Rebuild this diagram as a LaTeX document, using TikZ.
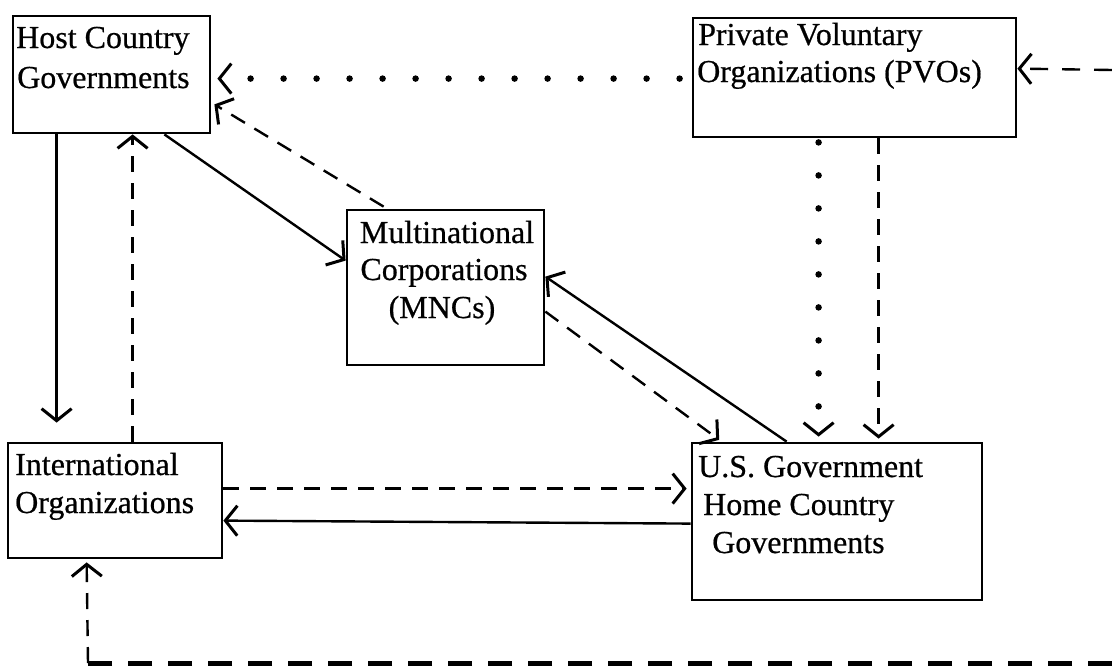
\documentclass[tikz,border=0pt]{standalone}
\usepackage{fontspec}
\setmainfont[FakeBold=0.6]{Liberation Serif}
\usetikzlibrary{arrows.meta}
\begin{document}
\begin{tikzpicture}[x=1pt,y=-1pt,
  box/.style={draw, line width=2.8pt, inner sep=0pt},
  lbl/.style={inner sep=0pt, font=\fontsize{32}{38}\selectfont},
  conn/.style={line width=2.4pt},
  dashline/.style={conn, dash pattern=on 16pt off 11pt},
  dotline/.style={line width=6.5pt, line cap=round, dash pattern=on 0pt off 33pt},
  tip/.style={-{Straight Barb[length=12pt,width=30pt,line width=3pt]}},
]
\useasboundingbox (0,0) rectangle (1112,667);
% boxes
\node[box, minimum width=197pt, minimum height=117pt] (host) at (111.5,74.5) {};
\node[box, minimum width=323pt, minimum height=119pt] (pvo) at (854.5,77.5) {};
\node[box, minimum width=197pt, minimum height=155pt] (mnc) at (445.5,287.5) {};
\node[box, minimum width=214pt, minimum height=115pt] (intl) at (115,500.5) {};
\node[box, minimum width=290pt, minimum height=157pt] (us) at (837,521.5) {};
% texts
\node[lbl, anchor=base west] (h1) at (16,48) {Host Country};
\node[lbl, anchor=base west] (h2) at (17,88) {Governments};
\node[lbl, anchor=base west] (p1) at (698,45) {Private Voluntary};
\node[lbl, anchor=base west] (p2) at (697,82) {Organizations (PVOs)};
\node[lbl, anchor=base] (m1) at (447,243) {Multinational};
\node[lbl, anchor=base] (m2) at (444,280) {Corporations};
\node[lbl, anchor=base] (m3) at (442,318) {(MNCs)};
\node[lbl, anchor=base west] (i1) at (15,475) {International};
\node[lbl, anchor=base west] (i2) at (15,513) {Organizations};
\node[lbl, anchor=base west] (u1) at (698,477) {U.S. Government};
\node[lbl, anchor=base west] (u2) at (703,515) {Home Country};
\node[lbl, anchor=base west] (u3) at (712,553) {Governments};
% connectors
\draw[dotline, tip, shorten >=2pt] ([yshift=-62pt,xshift=-12pt]pvo.north west) -- ([yshift=-64pt,xshift=4pt]host.north east);
\draw[dashline, tip] ([xshift=38pt,yshift=2pt]mnc.north west) -- ([xshift=3pt,yshift=30pt]host.south east);
\draw[conn, tip] ([xshift=-47pt]host.south east) -- ([yshift=-52pt]mnc.north west);
\draw[conn, tip, shorten >=19pt] ([xshift=45pt]host.south west) -- ([xshift=50pt]intl.north west);
\draw[dashline, tip] ([xshift=126pt]intl.north west) -- ([xshift=121pt]host.south west);
\draw[dashline, tip, shorten >=4pt] ([yshift=-47pt]intl.north east) -- ([yshift=-47pt]us.north west);
\draw[conn, tip] ([yshift=-82pt]us.north west) -- ([yshift=-79pt]intl.north east);
\draw[conn, tip] ([xshift=96pt]us.north west) -- ([yshift=-68pt]mnc.north east);
\draw[dashline, tip, shorten >=3pt] ([yshift=-103pt]mnc.north east) -- ([xshift=31pt]us.north west);
\draw[dotline, tip, shorten >=5pt] ([xshift=127pt,yshift=-4pt]pvo.south west) -- ([xshift=128pt]us.north west);
\draw[dashline, tip, shorten >=3pt] ([xshift=187pt]pvo.south west) -- ([xshift=188pt]us.north west);
\coordinate (rin) at (1112,70);
\draw[dashline, dash pattern=on 18pt off 14pt, tip] (rin) -- ([yshift=-52pt]pvo.north east);
\coordinate (rbot) at (1112,663);
\coordinate (bl) at (88,663);
\draw[line width=5pt, dash pattern=on 24pt off 16pt] (rbot) -- (bl);
\draw[dashline, tip, shorten >=3pt] (bl) -- ([xshift=80pt]intl.south west);
\end{tikzpicture}
\end{document}
